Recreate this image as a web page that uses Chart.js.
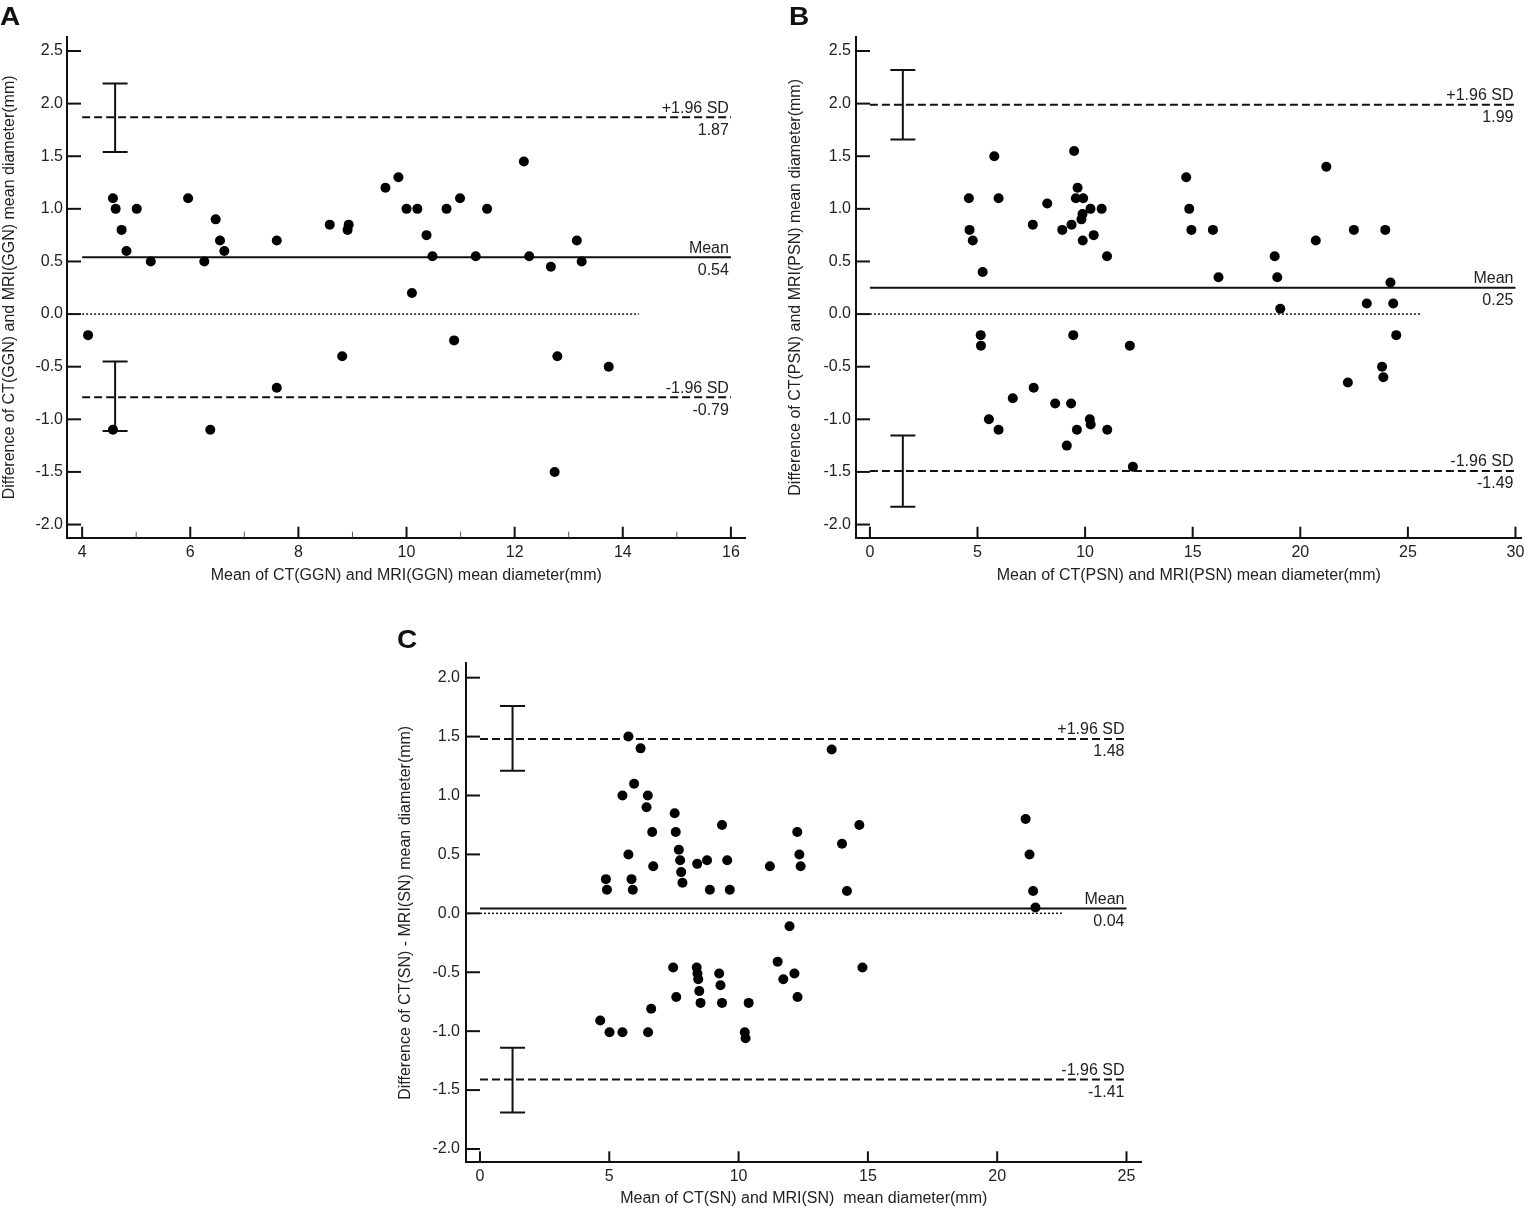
<!DOCTYPE html>
<html>
<head>
<meta charset="utf-8">
<script src="https://cdn.jsdelivr.net/npm/chart.js@4.4.1/dist/chart.umd.min.js"></script>
<style>
  body { margin: 0; background: #fff; width: 1536px; height: 1211px; position: relative; overflow: hidden; }
  canvas { position: absolute; }
  .tag { position: absolute; font: bold 25px/25px "Liberation Sans", Arial, sans-serif; color: #111;
         z-index: 2; transform: scaleX(1.12); transform-origin: left top; }
</style>
</head>
<body>
<canvas id="chartA" width="760" height="600" style="left:0;top:0"></canvas>
<canvas id="chartB" width="750" height="600" style="left:786px;top:0"></canvas>
<canvas id="chartC" width="760" height="611" style="left:396px;top:600px"></canvas>
<div class="tag" style="left:0;top:4px">A</div>
<div class="tag" style="left:789px;top:4px">B</div>
<div class="tag" style="left:397px;top:627px">C</div>
<script>
const FONT = '"Liberation Sans", Arial, sans-serif';
const FS = 16;

// Panel A - GGN
const meanA = [4.11, 4.57, 4.57, 4.62, 4.73, 4.82, 5.01, 5.27, 5.96, 6.26, 6.37, 6.47, 6.55, 6.63, 7.60, 7.60,
  8.58, 8.81, 8.91, 8.93, 9.61, 9.85, 10.0, 10.10, 10.2, 10.37, 10.48, 10.74, 10.88, 10.99, 11.28, 11.49,
  12.17, 12.27, 12.67, 12.74, 12.79, 13.15, 13.24, 13.74];
const diffA = [-0.2, -1.1, 1.1, 1.0, 0.8, 0.6, 1.0, 0.5, 1.1, 0.5, -1.1, 0.9, 0.7, 0.6, 0.7, -0.7,
  0.85, -0.4, 0.8, 0.85, 1.2, 1.3, 1.0, 0.2, 1.0, 0.75, 0.55, 1.0, -0.25, 1.1, 0.55, 1.0,
  1.45, 0.55, 0.45, -1.5, -0.4, 0.7, 0.5, -0.5];
const limitsA = [0.54, 1.87, -0.79];          // mean, +1.96 SD, -1.96 SD
const ciUpperA = [1.54, 2.19];
const ciLowerA = [-1.11, -0.45];
const ciXA = 4.61;
const spanA = [4, 16];
const zeroSpanA = [4, 14.3];
const xTicksA = [4, 6, 8, 10, 12, 14, 16];
const xMinorA = [5, 7, 9, 11, 13, 15];
const yTicksAB = [-2.0, -1.5, -1.0, -0.5, 0.0, 0.5, 1.0, 1.5, 2.0, 2.5];

// Panel B - PSN
const meanB = [4.60, 4.63, 4.78, 5.15, 5.16, 5.24, 5.53, 5.78, 5.98, 5.98, 6.64, 7.57, 7.61, 8.24, 8.61, 8.94,
  9.15, 9.35, 9.37, 9.45, 9.49, 9.57, 9.62, 9.65, 9.83, 9.88, 9.89, 9.91, 10.22, 10.25, 10.26, 10.40,
  10.77, 11.02, 11.03, 12.08, 12.22, 14.70, 14.84, 14.94, 15.94, 16.20, 18.81, 18.93, 19.07, 20.72,
  21.21, 22.21, 22.49, 23.09, 23.80, 23.86, 23.95, 24.19, 24.32, 24.46];
const diffB = [1.10, 0.80, 0.70, -0.20, -0.30, 0.40, -1.00, 1.50, 1.10, -1.10, -0.80, 0.85, -0.70, 1.05, -0.85, 0.80,
  -1.25, -0.85, 0.85, -0.20, 1.55, 1.10, -1.10, 1.20, 0.90, 0.95, 0.70, 1.10, -1.00, 1.00, -1.05, 0.75,
  1.00, 0.55, -1.10, -0.30, -1.45, 1.30, 1.00, 0.80, 0.80, 0.35, 0.55, 0.35, 0.05, 0.70,
  1.40, -0.65, 0.80, 0.10, -0.50, -0.60, 0.80, 0.30, 0.10, -0.20];
const limitsB = [0.25, 1.99, -1.49];
const ciUpperB = [1.66, 2.32];
const ciLowerB = [-1.83, -1.155];
const ciXB = 1.53;
const spanB = [0, 30];
const zeroSpanB = [0, 25.6];
const xTicksB = [0, 5, 10, 15, 20, 25, 30];

// Panel C - SN
const meanC = [4.65, 4.87, 4.91, 5.01, 5.51, 5.51, 5.74, 5.74, 5.86, 5.91, 5.96, 6.21, 6.44, 6.49, 6.50, 6.62,
  6.66, 6.70, 7.47, 7.53, 7.57, 7.59, 7.69, 7.74, 7.78, 7.83, 8.38, 8.40, 8.41, 8.44, 8.48, 8.53,
  8.78, 8.89, 9.25, 9.30, 9.36, 9.36, 9.56, 9.66, 10.24, 10.27, 10.39, 11.21, 11.51, 11.73, 11.97,
  12.16, 12.27, 12.28, 12.35, 12.40, 13.60, 14.00, 14.19, 14.67, 14.79, 21.10, 21.25, 21.39, 21.48];
const diffC = [-0.91, 0.29, 0.20, -1.01, 1.00, -1.01, 1.50, 0.50, 0.29, 0.20, 1.10, 1.40, 0.90, 1.00, -1.01, -0.81,
  0.69, 0.40, -0.46, 0.85, 0.69, -0.71, 0.54, 0.45, 0.35, 0.26, -0.46, 0.42, -0.51, -0.56, -0.66, -0.76,
  0.45, 0.20, -0.51, -0.61, 0.75, -0.76, 0.45, 0.20, -1.01, -1.06, -0.76, 0.40, -0.41, -0.56, -0.11,
  -0.51, 0.69, -0.71, 0.50, 0.40, 1.39, 0.59, 0.19, 0.75, -0.46, 0.80, 0.50, 0.19, 0.05];
const limitsC = [0.04, 1.48, -1.41];
const ciUpperC = [1.21, 1.76];
const ciLowerC = [-1.69, -1.14];
const ciXC = 1.26;
const spanC = [0, 25];
const zeroSpanC = [0, 22.5];
const xTicksC = [0, 5, 10, 15, 20, 25];
const yTicksC = [-2.0, -1.5, -1.0, -0.5, 0.0, 0.5, 1.0, 1.5, 2.0];

const limitNames = ['Mean', '+1.96 SD', '-1.96 SD'];

// ticks drawn inward from the offset axes
const innerTicks = {
  id: 'innerTicks',
  afterDraw(chart, args, opts) {
    const { ctx, chartArea: a, scales: { x, y } } = chart;
    const seg = (x1, y1, x2, y2) => { ctx.beginPath(); ctx.moveTo(x1, y1); ctx.lineTo(x2, y2); ctx.stroke(); };
    ctx.save();
    ctx.strokeStyle = '#111';
    ctx.lineWidth = 2;
    y.ticks.forEach(t => { const p = y.getPixelForValue(t.value); seg(a.left, p, a.left + 14, p); });
    x.ticks.forEach(t => { const p = x.getPixelForValue(t.value); seg(p, a.bottom, p, a.bottom - 11); });
    ctx.lineWidth = 1;
    ctx.strokeStyle = '#555';
    (opts.minor || []).forEach(v => { const p = x.getPixelForValue(v); seg(p, a.bottom, p, a.bottom - 6); });
    ctx.restore();
  }
};

// "Mean" / "+1.96 SD" captions with their values
const refLabels = {
  id: 'refLabels',
  afterDatasetsDraw(chart, args, opts) {
    const { ctx, scales: { x, y } } = chart;
    const right = x.getPixelForValue(opts.end) - 2;
    ctx.save();
    ctx.font = FS + 'px ' + FONT;
    ctx.fillStyle = '#222';
    ctx.textAlign = 'right';
    opts.limits.forEach((val, i) => {
      const py = y.getPixelForValue(val);
      ctx.textBaseline = 'bottom';
      ctx.fillText(limitNames[i], right, py - 1);
      ctx.textBaseline = 'top';
      ctx.fillText(val.toFixed(2), right, py + 5);
    });
    ctx.restore();
  }
};

function hline(y, span, dash, width) {
  return {
    data: [{ x: span[0], y: y }, { x: span[1], y: y }],
    showLine: true, borderColor: '#111', borderWidth: width, borderDash: dash,
    pointRadius: 0
  };
}

function ciBar(xv, range) {
  return {
    data: [{ x: xv, y: range[0] }, { x: xv, y: range[1] }],
    showLine: true, borderColor: '#111', borderWidth: 2,
    pointStyle: 'line', pointRadius: 12.5, pointBorderWidth: 2, pointBorderColor: '#111',
    pointBackgroundColor: '#111'
  };
}

function makeChart(id, p) {
  const pts = p.mean.map((m, i) => ({ x: m, y: p.diff[i] }));
  return new Chart(document.getElementById(id), {
    type: 'scatter',
    data: {
      datasets: [
        { data: pts, pointRadius: 5, pointBackgroundColor: '#000', pointBorderWidth: 0 },
        hline(p.limits[0], p.span, [], 2),
        hline(p.limits[1], p.span, [8, 4], 2),
        hline(p.limits[2], p.span, [8, 4], 2),
        hline(0, p.zeroSpan, [2, 2], 1.5),
        ciBar(p.ciX, p.ciUpper),
        ciBar(p.ciX, p.ciLower)
      ]
    },
    options: {
      responsive: false,
      animation: false,
      events: [],
      layout: { padding: { left: 0, top: p.padTop, right: p.padRight, bottom: 0 } },
      plugins: {
        legend: { display: false },
        tooltip: { enabled: false },
        innerTicks: { minor: p.minor },
        refLabels: { limits: p.limits, end: p.span[1] }
      },
      scales: {
        x: {
          type: 'linear', min: p.xRange[0], max: p.xRange[1],
          afterBuildTicks: s => { s.ticks = p.xTicks.map(v => ({ value: v })); },
          afterFit: s => { s.height = p.xH; },
          grid: { display: false, drawTicks: false },
          border: { display: true, color: '#111', width: 2 },
          ticks: { autoSkip: false, maxRotation: 0, padding: 5, color: '#222',
                   font: { size: FS, family: FONT }, callback: v => v },
          title: { display: true, text: p.xTitle, color: '#222', font: { size: FS, family: FONT },
                   padding: { top: 0, bottom: p.xTitlePad } }
        },
        y: {
          type: 'linear', min: p.yRange[0], max: p.yRange[1],
          afterBuildTicks: s => { s.ticks = p.yTicks.map(v => ({ value: v })); },
          afterFit: s => { s.width = p.yW; },
          grid: { display: false, drawTicks: false },
          border: { display: true, color: '#111', width: 2 },
          ticks: { autoSkip: false, padding: p.yPad, color: '#222',
                   font: { size: FS, family: FONT }, callback: v => v.toFixed(1) },
          title: { display: true, text: p.yTitle, color: '#222', font: { size: FS, family: FONT },
                   padding: { top: 0, bottom: 0 } }
        }
      }
    },
    plugins: [innerTicks, refLabels]
  });
}

makeChart('chartA', {
  mean: meanA, diff: diffA, limits: limitsA, ciUpper: ciUpperA, ciLower: ciLowerA, ciX: ciXA,
  span: spanA, zeroSpan: zeroSpanA, xTicks: xTicksA, minor: xMinorA, yTicks: yTicksAB,
  xRange: [3.72, 16.27], yRange: [-2.125, 2.633],
  padTop: 37, padRight: 13, xH: 62.3, yW: 67, yPad: 4, xTitlePad: 14.5,
  xTitle: 'Mean of CT(GGN) and MRI(GGN) mean diameter(mm)',
  yTitle: 'Difference of CT(GGN) and MRI(GGN) mean diameter(mm)'
});

makeChart('chartB', {
  mean: meanB, diff: diffB, limits: limitsB, ciUpper: ciUpperB, ciLower: ciLowerB, ciX: ciXB,
  span: spanB, zeroSpan: zeroSpanB, xTicks: xTicksB, minor: [], yTicks: yTicksAB,
  xRange: [-0.646, 30.28], yRange: [-2.125, 2.633],
  padTop: 37, padRight: 10, xH: 62.3, yW: 70, yPad: 5, xTitlePad: 14.5,
  xTitle: 'Mean of CT(PSN) and MRI(PSN) mean diameter(mm)',
  yTitle: 'Difference of CT(PSN) and MRI(PSN) mean diameter(mm)'
});

makeChart('chartC', {
  mean: meanC, diff: diffC, limits: limitsC, ciUpper: ciUpperC, ciLower: ciLowerC, ciX: ciXC,
  span: spanC, zeroSpan: zeroSpanC, xTicks: xTicksC, minor: [], yTicks: yTicksC,
  xRange: [-0.54, 25.58], yRange: [-2.113, 2.122],
  padTop: 63.3, padRight: 14, xH: 48.7, yW: 70, yPad: 6, xTitlePad: 3,
  xTitle: 'Mean of CT(SN) and MRI(SN)  mean diameter(mm)',
  yTitle: 'Difference of CT(SN) - MRI(SN) mean diameter(mm)'
});
</script>
</body>
</html>
